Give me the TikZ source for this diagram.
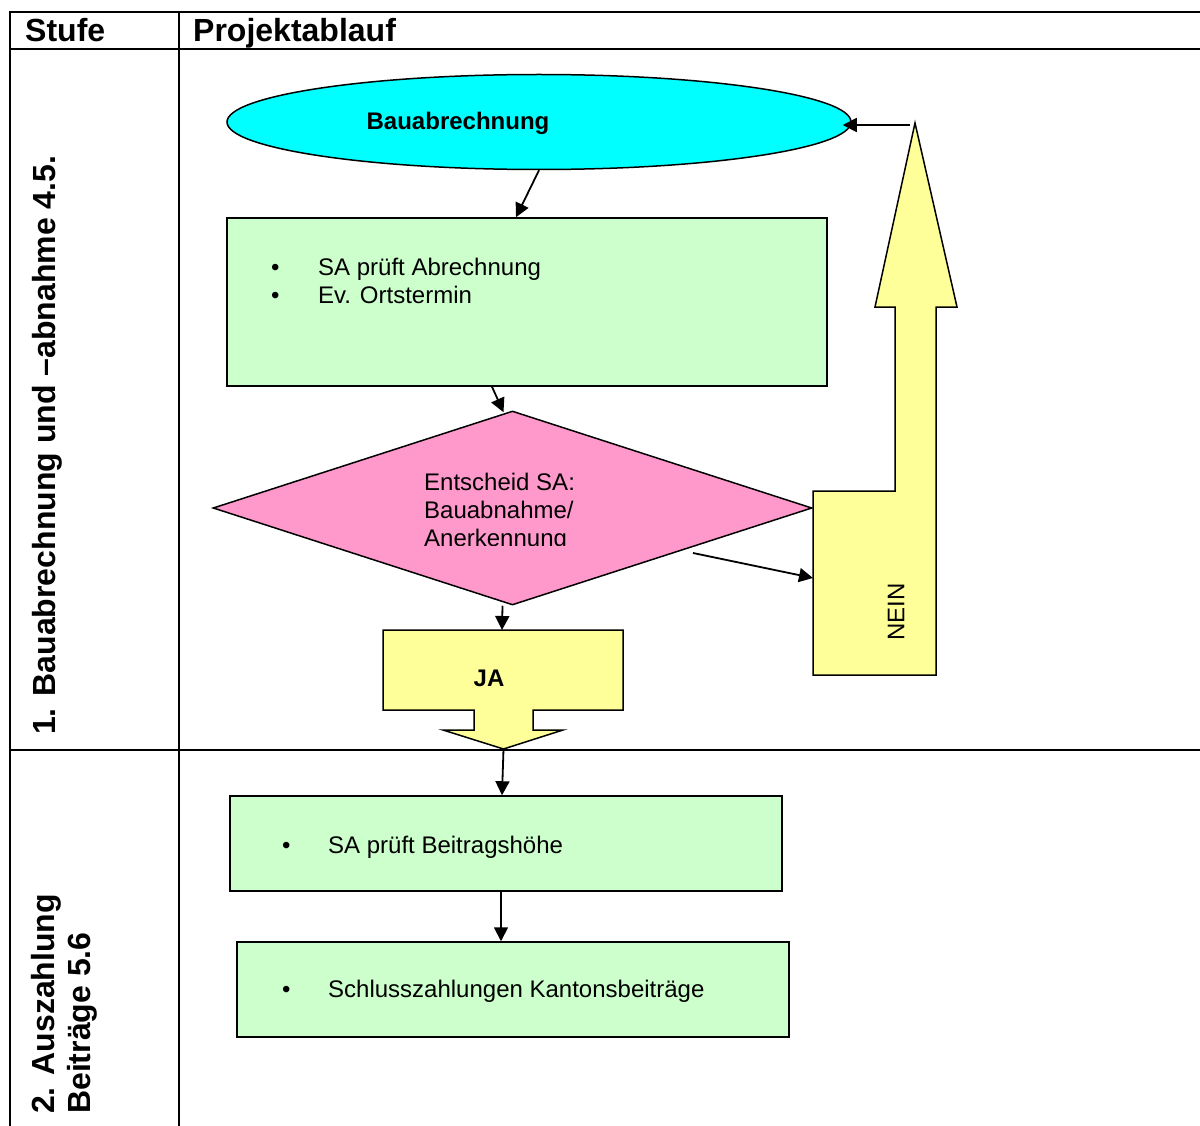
\documentclass[tikz,border=0pt]{standalone}
\usepackage{fontspec}
\setmainfont{Liberation Sans}
\usetikzlibrary{arrows.meta,positioning,shapes.geometric}
\definecolor{AbrCyan}{RGB}{0,255,255}
\definecolor{StepGreen}{RGB}{204,255,204}
\definecolor{DecisionPink}{RGB}{255,153,204}
\definecolor{BlockYellow}{RGB}{255,255,153}

\begin{document}
\begin{tikzpicture}[x=1pt,y=-1pt,
  grid/.style={line width=2pt},
  stepbox/.style={draw,line width=1.5pt,fill=StepGreen,inner sep=0pt,minimum height=95pt},
  flow/.style={-{Triangle[length=14pt,width=14pt]},line width=1.8pt},
  bodytext/.style={font=\fontsize{24}{28}\selectfont,inner sep=0pt,align=left},
  headtext/.style={font=\fontsize{32}{38}\selectfont\bfseries,inner sep=0pt}]
  \useasboundingbox[fill=white] (0,0) rectangle (1200,1126);

  % table
  \draw[grid] (1200,12) -- (10,12) -- (10,1126);
  \draw[grid] (10,49) -- (1200,49);
  \draw[grid] (179,12) -- (179,1126);
  \draw[grid] (10,750) -- (1200,750);
  \node[headtext,anchor=base west] (stufe) at (25,42) {Stufe};
  \node[headtext,anchor=base west] (ablauf) at (193,42) {Projektablauf};
  \node[headtext,rotate=90,anchor=base west] (stufeEins) at (55,735) {1. Bauabrechnung und –abnahme 4.5.};
  \node[headtext,rotate=90,anchor=base west] (stufeZweiA) at (54,1114) {2. Auszahlung};
  \node[headtext,rotate=90,anchor=base west] (stufeZweiB) at (90,1114) {Beiträge 5.6};

  % stage 1
  \node[ellipse,draw,line width=1.5pt,fill=AbrCyan,minimum width=624pt,minimum height=95pt] (bauabr) at (539,122) {};
  \node[font=\fontsize{24}{28}\selectfont\bfseries,inner sep=0pt] (bauabrTxt) at (458,123) {Bauabrechnung};

  \node[stepbox,minimum width=600pt,minimum height=168pt] (pruef) at (527,302) {};
  \node[bodytext,anchor=north west] (pruefTxt) at (271,258) {\makebox[47pt][l]{•}SA prüft Abrechnung\\\makebox[47pt][l]{•}Ev. Ortstermin};

  \node[diamond,draw,line width=1.5pt,fill=DecisionPink,minimum width=599pt,minimum height=194pt,inner sep=0pt] (entscheid) at (512.5,508) {};
  \begin{scope}
    \clip (410,455) rectangle (620,545);
    \node[bodytext,anchor=north west] (entscheidTxt) at (424,473) {Entscheid SA:\\Bauabnahme/\\Anerkennung};
  \end{scope}

  % JA block arrow
  \draw[line width=1.5pt,fill=BlockYellow] (383,630) -- (623,630) -- (623,710) -- (533,710) -- (533,730)
    -- (563,730) -- (503.5,749) -- (443,730) -- (474,730) -- (474,710) -- (383,710) -- cycle;
  \coordinate (jaTop) at (502,630);
  \coordinate (jaTip) at (503.5,749);
  \node[font=\fontsize{24}{28}\selectfont\bfseries,inner sep=0pt] (jaTxt) at (489,678) {JA};

  % NEIN block arrow
  \draw[line width=1.5pt,fill=BlockYellow] (813,675) -- (813,491) -- (895,491) -- (895,307) -- (875,307)
    -- (915,123) -- (957,307) -- (936,307) -- (936,675) -- cycle;
  \coordinate (neinLeft) at (813,578);
  \coordinate (neinFrom) at (693,553);
  \coordinate (neinTip) at (910,125);
  \node[font=\fontsize{24}{28}\selectfont,inner sep=0pt,rotate=90] (neinTxt) at (896,612) {NEIN};

  % stage 2
  \node[stepbox,minimum width=552pt] (auszahl) at (506,843.5) {};
  \node[bodytext,anchor=base west] (auszahlTxt) at (282,853) {\makebox[46pt][l]{•}SA prüft Beitragshöhe};
  \node[stepbox,minimum width=552pt] (schluss) at (513,989.5) {};
  \node[bodytext,anchor=base west] (schlussTxt) at (282,997.5) {\makebox[46pt][l]{•}Schlusszahlungen Kantonsbeiträge};

  % connectors
  \draw[flow] (bauabr.south) -- ([xshift=-11pt]pruef.north);
  \draw[flow] ([xshift=-35pt]pruef.south) -- ([xshift=-9pt,yshift=-2pt]entscheid.north);
  \draw[flow] ([xshift=-10pt]entscheid.south) -- (jaTop);
  \draw[flow] (neinFrom) -- (neinLeft);
  \draw[flow] (neinTip) -- ([xshift=-9pt,yshift=-3pt]bauabr.east);
  \draw[flow] (jaTip) -- ([xshift=-4pt]auszahl.north);
  \draw[flow] ([xshift=-5pt]auszahl.south) -- ([xshift=-12pt]schluss.north);
\end{tikzpicture}
\end{document}
